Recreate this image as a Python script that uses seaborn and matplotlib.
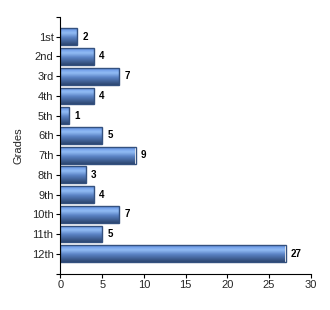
import numpy as np
import pandas as pd
import matplotlib
matplotlib.use("Agg")
import matplotlib.pyplot as plt
from matplotlib.colors import LinearSegmentedColormap
import seaborn as sns

grades = ["1st", "2nd", "3rd", "4th", "5th", "6th", "7th", "8th", "9th", "10th", "11th", "12th"]
counts = [2, 4, 7, 4, 1, 5, 9, 3, 4, 7, 5, 27]
x_ticks = [0, 5, 10, 15, 20, 25, 30]

sns.set_style("white")
plt.rcParams["font.family"] = ["Liberation Sans", "DejaVu Sans"]

df = pd.DataFrame({"grade": grades, "count": counts})

fig = plt.figure(figsize=(3.30, 3.10), dpi=100)
ax = fig.add_axes([60.5 / 330, 1 - 273.5 / 310, 250 / 330, (273.5 - 17) / 310])

sns.barplot(data=df, y="grade", x="count", orient="h", ax=ax, width=0.85,
            color="#5b88d0", edgecolor="#34517f", linewidth=1.0, saturation=1)

cmap = LinearSegmentedColormap.from_list(
    "bar", [(0.0, "#5f8ee0"), (0.28, "#93bdf6"), (0.55, "#5a82c4"), (1.0, "#2c466f")])
grad = np.linspace(0, 1, 64).reshape(-1, 1)
for p in list(ax.patches):
    x0, y0 = p.get_x(), p.get_y()
    w, h = p.get_width(), p.get_height()
    im = ax.imshow(grad, cmap=cmap, aspect="auto", interpolation="bicubic",
                   extent=[x0, x0 + w, y0 + h, y0], zorder=p.get_zorder() + 0.1)
    im.set_clip_path(p)
    p.set_facecolor("none")
    p.set_zorder(p.get_zorder() + 0.2)

for i, v in enumerate(counts):
    ax.text(v + 0.65, i, str(v), va="center", ha="left", fontsize=7,
            fontweight="bold", color="black")

ax.set_xlim(0, 30)
ax.set_ylim(12, -1)
ax.set_xticks(x_ticks)
ax.set_xticklabels([str(t) for t in x_ticks])
ax.set_yticks(list(range(-1, 13)))
ax.set_yticklabels([""] + grades + [""])
ax.set_xlabel("")
ax.set_ylabel("Grades", fontsize=8, labelpad=6)
ax.tick_params(axis="both", labelsize=8, length=3, width=0.8, color="black",
               direction="out", pad=2, left=True, bottom=True)
for s in ["top", "right"]:
    ax.spines[s].set_visible(False)
for s in ["left", "bottom"]:
    ax.spines[s].set_color("black")
    ax.spines[s].set_linewidth(0.8)

fig.savefig("out.png", dpi=100)
